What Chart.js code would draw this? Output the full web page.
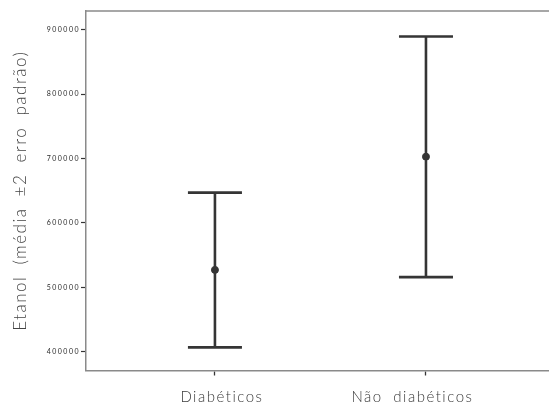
<!DOCTYPE html>
<html>
<head>
<meta charset="utf-8">
<script src="https://cdn.jsdelivr.net/npm/chart.js@4/dist/chart.umd.min.js"></script>
<style>
  html, body { margin: 0; padding: 0; background: #fff; }
  #wrap { width: 549px; height: 406px; }
</style>
</head>
<body>
<div id="wrap"><canvas id="c" width="549" height="406"></canvas></div>
<script>
// Groups and their mean ± 2 standard errors
const groups = ['Diabéticos', 'Não diabéticos'];
const means  = [527000, 703000];
const lower  = [406500, 515800];
const upper  = [647100, 889800];
const yTicks = [400000, 500000, 600000, 700000, 800000, 900000];

const INK = '#353535';
const FRAME = '#8a8a8a';
// where each group's name sits along the x axis
const LABEL_POS = [1.033, 1.936];

// Wider, airier text spacing for every label
const textSpacing = {
  id: 'textSpacing',
  beforeLayout(chart) { chart.ctx.letterSpacing = '1.5px'; chart.ctx.wordSpacing = '5px'; },
  beforeDraw(chart) { chart.ctx.letterSpacing = '1.5px'; chart.ctx.wordSpacing = '5px'; }
};

// Error bars: vertical whisker with caps at the lower/upper values
const errorBars = {
  id: 'errorBars',
  afterDatasetsDraw(chart) {
    const { ctx, scales: { x, y } } = chart;
    const capHalf = 0.128;
    ctx.save();
    ctx.strokeStyle = INK;
    ctx.lineWidth = 2.6;
    ctx.lineCap = 'butt';
    groups.forEach((g, i) => {
      const xv = i + 1;
      const px = x.getPixelForValue(xv);
      const yl = y.getPixelForValue(lower[i]);
      const yu = y.getPixelForValue(upper[i]);
      const cl = x.getPixelForValue(xv - capHalf);
      const cr = x.getPixelForValue(xv + capHalf);
      ctx.beginPath();
      ctx.moveTo(px, yl); ctx.lineTo(px, yu);
      ctx.moveTo(cl, yl); ctx.lineTo(cr, yl);
      ctx.moveTo(cl, yu); ctx.lineTo(cr, yu);
      ctx.stroke();
    });
    ctx.restore();
  }
};

// Top frame line of the plot box
const frameTop = {
  id: 'frameTop',
  beforeDatasetsDraw(chart) {
    const { ctx, chartArea: a } = chart;
    ctx.save();
    ctx.strokeStyle = FRAME;
    ctx.lineWidth = 1.5;
    ctx.beginPath();
    ctx.moveTo(a.left, a.top);
    ctx.lineTo(chart.width, a.top);
    ctx.stroke();
    ctx.restore();
  }
};

const noSidePadding = (scale) => { scale.paddingLeft = 0; scale.paddingRight = 0; };

new Chart(document.getElementById('c'), {
  type: 'scatter',
  data: {
    datasets: [{
      data: groups.map((g, i) => ({ x: i + 1, y: means[i] })),
      pointRadius: 3.5,
      pointHoverRadius: 3.5,
      pointBackgroundColor: INK,
      pointBorderColor: INK,
      pointBorderWidth: 1
    }]
  },
  options: {
    responsive: false,
    animation: false,
    events: [],
    layout: { autoPadding: false, padding: { top: 11, right: 0, left: 0, bottom: 0 } },
    plugins: {
      legend: { display: false },
      tooltip: { enabled: false }
    },
    scales: {
      x: {
        type: 'linear',
        position: 'bottom',
        min: 0.389,
        max: 2.583,
        afterBuildTicks(scale) {
          scale.ticks = groups.map((g, i) => ({ value: i + 1 }));
        },
        afterFit(scale) { scale.height = 5; noSidePadding(scale); },
        grid: {
          drawOnChartArea: false,
          drawTicks: true,
          tickLength: 5,
          tickWidth: 1.3,
          tickColor: INK
        },
        border: { display: true, color: FRAME, width: 1.5 },
        ticks: { display: false }
      },
      xNames: {
        type: 'linear',
        position: 'bottom',
        min: 0.389,
        max: 2.583,
        afterBuildTicks(scale) {
          scale.ticks = LABEL_POS.map(v => ({ value: v }));
        },
        afterFit(scale) { scale.height = 30.5; noSidePadding(scale); },
        grid: { display: false, drawTicks: false },
        border: { display: false },
        ticks: {
          padding: 13,
          color: '#3a3a3a',
          font: { family: 'Lato', size: 15, weight: 300 },
          callback: (v) => groups[LABEL_POS.indexOf(v)]
        }
      },
      y: {
        min: 370600,
        max: 929400,
        afterBuildTicks(scale) {
          scale.ticks = yTicks.map(v => ({ value: v }));
        },
        afterFit(scale) { scale.width = 86; },
        grid: {
          drawOnChartArea: false,
          drawTicks: true,
          tickLength: 5,
          tickWidth: 1.2,
          tickColor: INK
        },
        border: { display: true, color: FRAME, width: 1.5 },
        ticks: {
          padding: 1,
          color: '#2a2a2a',
          font: { family: 'Lato', size: 7 },
          callback: (v) => String(v)
        },
        title: {
          display: true,
          text: 'Etanol (média ±2 erro padrão)',
          color: '#444',
          font: { family: 'Lato', size: 17, weight: 300 },
          padding: { top: 10, bottom: 6 }
        }
      }
    }
  },
  plugins: [textSpacing, errorBars, frameTop]
});
</script>
</body>
</html>
